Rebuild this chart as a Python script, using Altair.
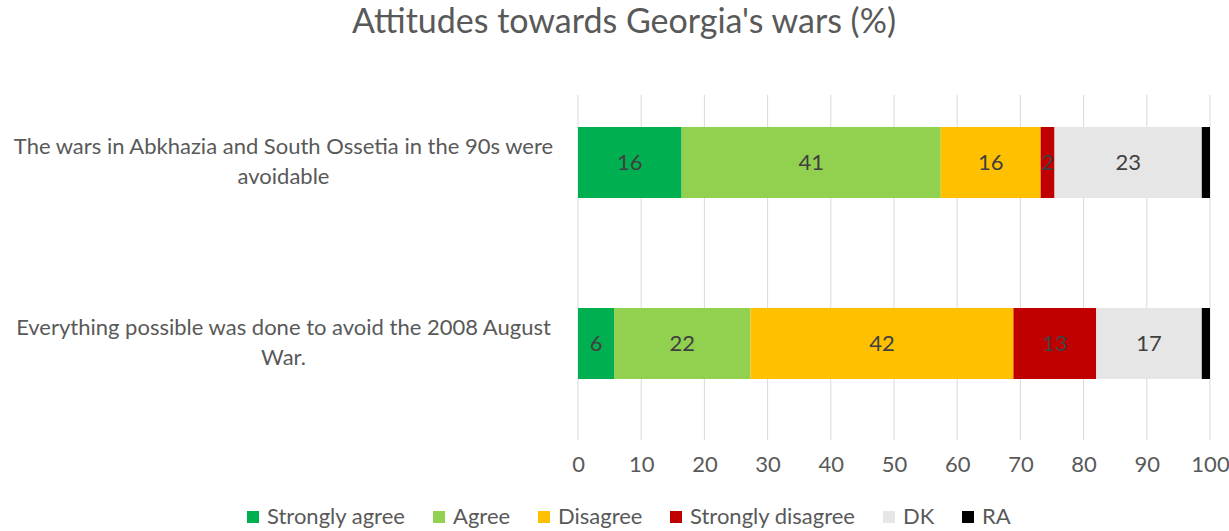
import altair as alt
import pandas as pd

questions = [
    "The wars in Abkhazia and South Ossetia in the 90s were\navoidable",
    "Everything possible was done to avoid the 2008 August\nWar.",
]
responses = ["Strongly agree", "Agree", "Disagree", "Strongly disagree", "DK", "RA"]
colors = ["#00B050", "#92D050", "#FFC000", "#C00000", "#E7E6E6", "#000000"]
q1_values = [16.4, 41.0, 15.8, 2.2, 23.3, 1.3]
q2_values = [5.7, 21.6, 41.6, 13.1, 16.7, 1.3]
x_ticks = [0, 10, 20, 30, 40, 50, 60, 70, 80, 90, 100]

rows = []
for q, vals in zip(questions, [q1_values, q2_values]):
    for i, (r, v) in enumerate(zip(responses, vals)):
        rows.append({"question": q, "response": r, "order": i, "value": v})
df = pd.DataFrame(rows)

FONT = "Lato"
GRAY = "#595959"

xscale = alt.Scale(domain=[0, 100], nice=False, zero=True)
yscale = alt.Scale(domain=questions, paddingInner=0.608, paddingOuter=0.304)
xaxis = alt.Axis(values=x_ticks, grid=False, domain=False, ticks=False,
                 labelFontSize=22, labelColor=GRAY, labelFont=FONT,
                 labelPadding=20, labelFlush=False)
yaxis = alt.Axis(domain=False, ticks=False, labelAlign="center",
                 labelBaseline="middle", labelPadding=295, labelLimit=800,
                 labelFontSize=22, labelColor=GRAY, labelFont=FONT,
                 labelLineHeight=30, labelOffset=-16,
                 labelExpr="split(datum.label, '\\n')")

base = alt.Chart(df).transform_stack(
    stack="value", as_=["x0", "x1"], groupby=["question"],
    sort=[alt.SortField("order", order="ascending")],
).transform_calculate(mid="(datum.x0 + datum.x1) / 2")

grid = alt.Chart(pd.DataFrame({"tick": x_ticks})).mark_rule(
    color="#D9D9D9", strokeWidth=1
).encode(
    x=alt.X("tick:Q", scale=xscale, axis=xaxis, title=None),
    y=alt.value(23),
    y2=alt.value(368),
)

bars = base.mark_bar().encode(
    x=alt.X("x0:Q", scale=xscale, axis=xaxis, title=None),
    x2="x1:Q",
    y=alt.Y("question:N", scale=yscale, sort=questions, title=None, axis=yaxis),
    color=alt.Color(
        "response:N", scale=alt.Scale(domain=responses, range=colors),
        legend=alt.Legend(title=None, orient="none", direction="horizontal",
                          legendX=-336, legendY=434, symbolType="square",
                          symbolSize=144, symbolStrokeWidth=0,
                          labelFontSize=22, labelColor=GRAY, labelFont=FONT,
                          labelLimit=300, columnPadding=22, labelOffset=3),
    ),
    order=alt.Order("order:Q"),
)

labels = base.transform_filter("datum.response != 'RA'").mark_text(
    fontSize=22, color="#404040", font=FONT
).encode(
    x=alt.X("mid:Q", scale=xscale, axis=xaxis, title=None),
    y=alt.Y("question:N", scale=yscale, sort=questions, title=None, axis=yaxis),
    text=alt.Text("value:Q", format=".0f"),
)

chart = alt.layer(grid, bars, labels).properties(
    width=632, height=362,
    autosize=alt.AutoSizeParams(type="none"),
    padding={"left": 578, "top": 72, "right": 19, "bottom": 97},
    title=alt.TitleParams("Attitudes towards Georgia's wars (%)", fontSize=34,
                          font=FONT, color=GRAY, fontWeight="normal",
                          frame="group", anchor="middle", dx=-270, offset=32),
).configure(
    background="white", view=alt.ViewConfig(strokeWidth=0, stroke="transparent")
)

chart.save("out.html", embed_options={"renderer": "svg", "actions": False})
